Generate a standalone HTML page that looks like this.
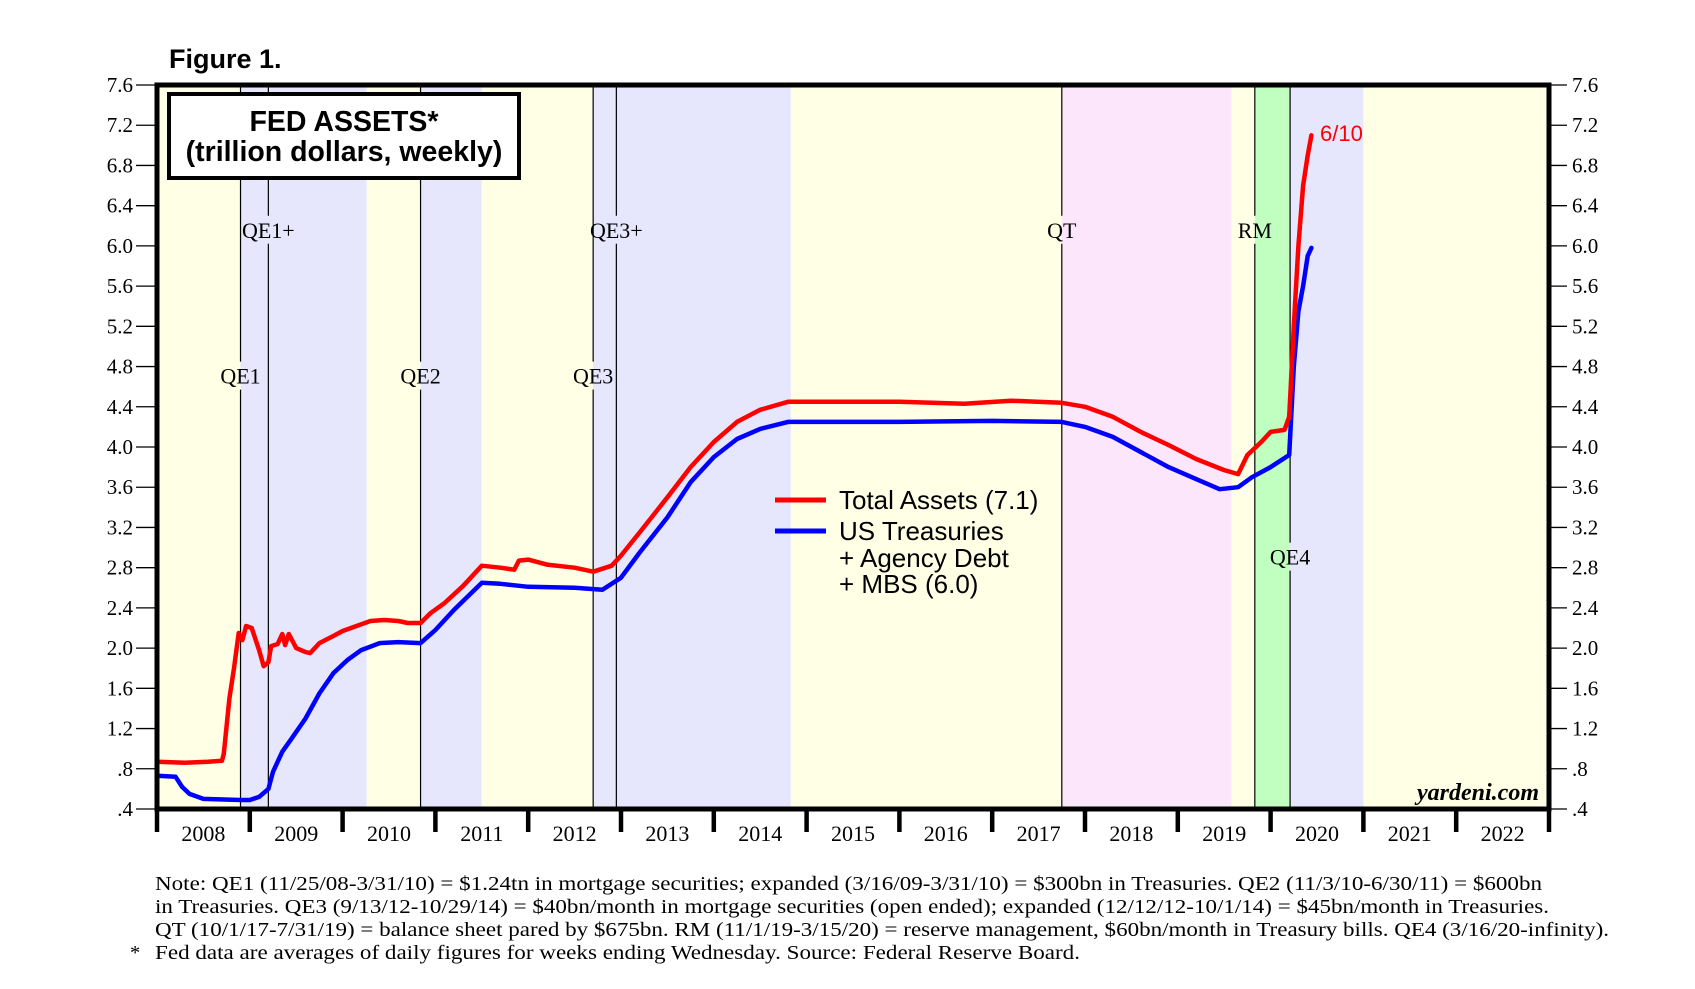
<!DOCTYPE html>
<html><head><meta charset="utf-8">
<style>
html,body{margin:0;padding:0;background:#fff;}
svg{display:block;}
</style></head>
<body>
<svg id="chart" width="1695" height="989" viewBox="0 0 1695 989" xmlns="http://www.w3.org/2000/svg">
  <g id="bg"></g>
  <g id="vlines"></g>
  <g id="series"></g>
  <g id="axes"></g>
  <text x="169" y="68" font-family="Liberation Sans, sans-serif" font-weight="bold" font-size="27">Figure 1.</text>
  <g>
    <rect x="169" y="94" width="350" height="84" fill="#fff" stroke="#000" stroke-width="4"/>
    <text x="344" y="131" text-anchor="middle" font-family="Liberation Sans, sans-serif" font-weight="bold" font-size="28.5">FED ASSETS*</text>
    <text x="344" y="161" text-anchor="middle" font-family="Liberation Sans, sans-serif" font-weight="bold" font-size="28.5">(trillion dollars, weekly)</text>
  </g>
  <g font-family="Liberation Sans, sans-serif" font-size="26">
    <line x1="775" y1="500" x2="826" y2="500" stroke="#ff0000" stroke-width="5"/>
    <text x="839" y="509">Total Assets (7.1)</text>
    <line x1="775" y1="531" x2="826" y2="531" stroke="#0000ff" stroke-width="5"/>
    <text x="839" y="540">US Treasuries</text>
    <text x="839" y="567">+ Agency Debt</text>
    <text x="839" y="593">+ MBS (6.0)</text>
  </g>
  <text x="1320" y="141" fill="#ff0000" font-family="Liberation Sans, sans-serif" font-size="22">6/10</text>
  <text x="1539" y="800" text-anchor="end" font-family="Liberation Serif, serif" font-weight="bold" font-style="italic" font-size="24">yardeni.com</text>
  <g font-family="Liberation Serif, serif" font-size="20.5">
    <text x="155" y="890" textLength="1387" lengthAdjust="spacingAndGlyphs">Note: QE1 (11/25/08-3/31/10) = $1.24tn in mortgage securities; expanded (3/16/09-3/31/10) = $300bn in Treasuries. QE2 (11/3/10-6/30/11) = $600bn</text>
    <text x="155" y="913" textLength="1394" lengthAdjust="spacingAndGlyphs">in Treasuries. QE3 (9/13/12-10/29/14) = $40bn/month in mortgage securities (open ended); expanded (12/12/12-10/1/14) = $45bn/month in Treasuries.</text>
    <text x="155" y="936" textLength="1454" lengthAdjust="spacingAndGlyphs">QT (10/1/17-7/31/19) = balance sheet pared by $675bn. RM (11/1/19-3/15/20) = reserve management, $60bn/month in Treasury bills. QE4 (3/16/20-infinity).</text>
    <text x="130" y="959">*</text>
    <text x="155" y="959" textLength="925" lengthAdjust="spacingAndGlyphs">Fed data are averages of daily figures for weeks ending Wednesday. Source: Federal Reserve Board.</text>
  </g>
</svg>
<script>
const yTicks = [0.4,0.8,1.2,1.6,2.0,2.4,2.8,3.2,3.6,4.0,4.4,4.8,5.2,5.6,6.0,6.4,6.8,7.2,7.6];
const yTickLabels = [".4",".8","1.2","1.6","2.0","2.4","2.8","3.2","3.6","4.0","4.4","4.8","5.2","5.6","6.0","6.4","6.8","7.2","7.6"];
const years = [2008,2009,2010,2011,2012,2013,2014,2015,2016,2017,2018,2019,2020,2021,2022];
const periodStarts = [2008.0,2008.9,2010.26,2010.84,2011.5,2012.7,2014.83,2017.75,2019.58,2019.83,2020.21,2021.0];
const periodEnds   = [2008.9,2010.26,2010.84,2011.5,2012.7,2014.83,2017.75,2019.58,2019.83,2020.21,2021.0,2023.0];
const periodColors = ["#ffffe6","#e6e6fc","#ffffe6","#e6e6fc","#ffffe6","#e6e6fc","#ffffe6","#fce6fc","#ffffe6","#c0ffc0","#e6e6fc","#ffffe6"];
const programNames = ["QE1","QE1+","QE2","QE3","QE3+","QT","RM","QE4"];
const programDates = [2008.9,2009.2,2010.84,2012.7,2012.95,2017.75,2019.83,2020.21];
const programLabelY = [4.71,6.16,4.71,4.71,6.16,6.16,6.16,2.91];
const totalX = [2008.0,2008.3,2008.55,2008.7,2008.72,2008.78,2008.83,2008.88,2008.92,2008.96,2009.02,2009.1,2009.15,2009.2,2009.23,2009.3,2009.35,2009.38,2009.42,2009.5,2009.6,2009.65,2009.75,2009.9,2010.0,2010.15,2010.3,2010.45,2010.6,2010.7,2010.84,2010.95,2011.1,2011.3,2011.5,2011.7,2011.85,2011.9,2012.0,2012.2,2012.5,2012.7,2012.9,2013.0,2013.2,2013.5,2013.75,2014.0,2014.25,2014.5,2014.8,2015.0,2016.0,2016.7,2017.2,2017.75,2018.0,2018.3,2018.6,2018.9,2019.2,2019.5,2019.65,2019.75,2019.9,2020.0,2020.15,2020.2,2020.25,2020.3,2020.35,2020.4,2020.44];
const totalY = [0.87,0.86,0.87,0.88,0.95,1.5,1.8,2.15,2.08,2.22,2.2,1.98,1.82,1.86,2.02,2.04,2.14,2.03,2.14,2.0,1.96,1.95,2.05,2.12,2.17,2.22,2.27,2.28,2.27,2.25,2.25,2.35,2.45,2.62,2.82,2.8,2.78,2.87,2.88,2.83,2.8,2.76,2.82,2.92,3.15,3.5,3.8,4.05,4.25,4.37,4.45,4.45,4.45,4.43,4.46,4.44,4.4,4.3,4.15,4.02,3.88,3.77,3.73,3.92,4.05,4.15,4.17,4.3,5.2,6.0,6.6,6.9,7.1];
const treasX = [2008.0,2008.2,2008.27,2008.35,2008.5,2008.9,2009.0,2009.1,2009.2,2009.25,2009.35,2009.45,2009.6,2009.75,2009.9,2010.05,2010.2,2010.4,2010.6,2010.84,2011.0,2011.2,2011.5,2011.7,2012.0,2012.5,2012.8,2013.0,2013.2,2013.5,2013.75,2014.0,2014.25,2014.5,2014.8,2015.0,2016.0,2017.0,2017.75,2018.0,2018.3,2018.6,2018.9,2019.2,2019.45,2019.65,2019.8,2020.0,2020.2,2020.25,2020.3,2020.35,2020.4,2020.44];
const treasY = [0.73,0.72,0.62,0.55,0.5,0.49,0.49,0.52,0.6,0.77,0.97,1.1,1.3,1.55,1.75,1.88,1.98,2.05,2.06,2.05,2.18,2.38,2.65,2.64,2.61,2.6,2.58,2.7,2.95,3.3,3.65,3.9,4.08,4.18,4.25,4.25,4.25,4.26,4.25,4.2,4.1,3.95,3.8,3.68,3.58,3.6,3.7,3.8,3.92,4.8,5.35,5.6,5.9,5.98];

const L=157, R=1549, T=85, B=809;
const X0=2008, X1=2023, Y0=0.4, Y1=7.6;
const sx = v => L + (v-X0)/(X1-X0)*(R-L);
const sy = v => B - (v-Y0)/(Y1-Y0)*(B-T);
const NS="http://www.w3.org/2000/svg";
function mk(tag, attrs, parent){const e=document.createElementNS(NS,tag);for(const k in attrs)e.setAttribute(k,attrs[k]);parent.appendChild(e);return e;}
const bg=document.getElementById('bg'), vl=document.getElementById('vlines'), se=document.getElementById('series'), ax=document.getElementById('axes');

periodStarts.forEach((s,i)=>{
  const r=mk('rect',{x:sx(s),y:T,width:sx(periodEnds[i])-sx(s),height:B-T,fill:periodColors[i]},bg);
  
  
});
programDates.forEach((d,i)=>{
  const x=sx(d), ly=sy(programLabelY[i]);
  const a=mk('line',{x1:x,y1:T,x2:x,y2:ly-14,stroke:'#000','stroke-width':1.2},vl);
  
  
  const b=mk('line',{x1:x,y1:ly+14,x2:x,y2:B,stroke:'#000','stroke-width':1.2},vl);
  
  
  const t=mk('text',{x:x,y:ly+8,'text-anchor':'middle','font-family':'Liberation Serif, serif','font-size':22},vl);
  t.textContent=programNames[i];
  
  
});
function path(xs,ys,color,name){
  const d=xs.map((x,i)=>(i?'L':'M')+sx(x).toFixed(1)+','+sy(ys[i]).toFixed(1)).join(' ');
  const p=mk('path',{d:d,fill:'none',stroke:color,'stroke-width':4.5,'stroke-linejoin':'round','stroke-linecap':'round'},se);
  
  
}
path(treasX,treasY,'#0000ff','treasuries-line');
path(totalX,totalY,'#ff0000','total-assets-line');

const frame=mk('rect',{x:L,y:T,width:R-L,height:B-T,fill:'none',stroke:'#000','stroke-width':5},ax);


yTicks.forEach((v,i)=>{
  const y=sy(v);
  mk('line',{x1:136,y1:y,x2:L,y2:y,stroke:'#000','stroke-width':1.3},ax);
  mk('line',{x1:R,y1:y,x2:1567,y2:y,stroke:'#000','stroke-width':1.3},ax);
  const tl=mk('text',{x:133,y:y+7,'text-anchor':'end','font-family':'Liberation Serif, serif','font-size':21},ax);
  tl.textContent=yTickLabels[i];
  
  
  const tr=mk('text',{x:1572,y:y+7,'font-family':'Liberation Serif, serif','font-size':21},ax);
  tr.textContent=yTickLabels[i];
  
  
});
years.concat([2023]).forEach(yr=>{
  mk('line',{x1:sx(yr),y1:B,x2:sx(yr),y2:832,stroke:'#000','stroke-width':4.5},ax);
});
years.forEach(yr=>{
  const t=mk('text',{x:sx(yr+0.5),y:841,'text-anchor':'middle','font-family':'Liberation Serif, serif','font-size':22},ax);
  t.textContent=String(yr);
  
  
});
</script>
</body></html>
